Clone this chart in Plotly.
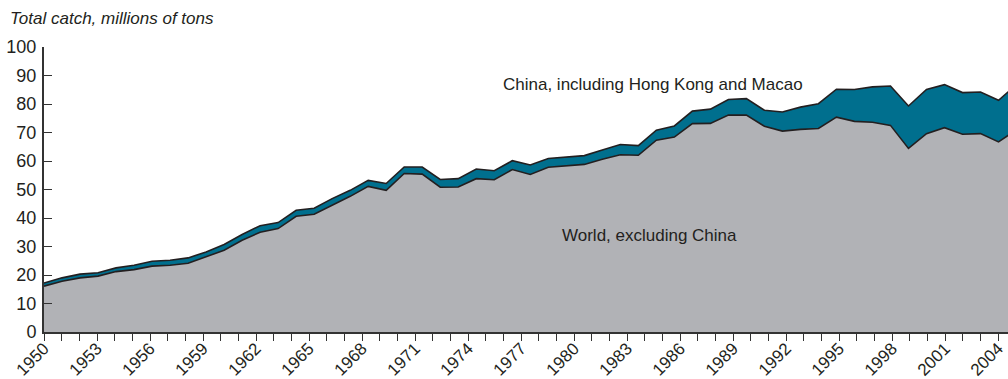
import plotly.graph_objects as go

# Annual catch, millions of tons
years = list(range(1950, 2005))
world_excl_china = [
    16.1, 17.8, 19.0, 19.6, 21.2, 21.9, 23.1, 23.4, 24.1, 26.4,
    28.7, 32.2, 35.0, 36.3, 40.6, 41.3, 44.4, 47.6, 51.1, 49.7,
    55.6, 55.4, 50.8, 50.9, 53.8, 53.4, 57.0, 55.3, 57.8, 58.3,
    58.8, 60.6, 62.2, 62.0, 67.3, 68.4, 73.1, 73.2, 76.1, 76.1,
    72.2, 70.5, 71.1, 71.4, 75.4, 73.9, 73.6, 72.5, 64.4, 69.6,
    71.7, 69.4, 69.6, 66.7, 71.0,
]
china = [
    1.1, 1.2, 1.3, 1.2, 1.3, 1.5, 1.7, 1.8, 1.9, 1.7,
    2.0, 2.0, 2.3, 2.1, 2.1, 2.1, 2.4, 2.1, 2.1, 2.4,
    2.3, 2.5, 2.7, 2.9, 3.4, 3.2, 3.1, 3.3, 3.1, 3.0,
    3.1, 3.3, 3.6, 3.4, 3.5, 3.9, 4.4, 5.0, 5.5, 5.8,
    5.6, 6.7, 7.8, 8.7, 9.8, 11.2, 12.4, 13.8, 14.9, 15.5,
    15.1, 14.6, 14.6, 14.6, 15.8,
]

# Year labels along the bottom axis
tick_years = list(range(1950, 2005, 3))
y_ticks = list(range(0, 101, 10))

GRAY = "#b1b2b6"
TEAL = "#006f8e"
INK = "#231f20"
FONT = "Arial, Liberation Sans, Helvetica, sans-serif"

W, H = 1008, 379
M_L, M_R, M_T, M_B = 44, 0, 47, 47
plot_w = W - M_L - M_R

fig = go.Figure()
fig.add_trace(go.Scatter(
    x=years, y=world_excl_china, stackgroup="catch", mode="lines",
    line=dict(color=INK, width=1.6), fillcolor=GRAY,
    name="World, excluding China", hoverinfo="x+y",
))
fig.add_trace(go.Scatter(
    x=years, y=china, stackgroup="catch", mode="lines",
    line=dict(color=INK, width=1.6), fillcolor=TEAL,
    name="China, including Hong Kong and Macao", hoverinfo="x+y",
))

fig.update_layout(
    width=W, height=H,
    margin=dict(l=M_L, r=M_R, t=M_T, b=M_B, autoexpand=False),
    paper_bgcolor="white", plot_bgcolor="white",
    showlegend=False,
    font=dict(family=FONT, size=17, color=INK),
    xaxis=dict(
        range=[1950, 1950 + plot_w / 18.01],
        visible=False, fixedrange=True, automargin=False,
    ),
    xaxis2=dict(
        overlaying="x", side="bottom", anchor="y",
        range=[1950, 1950 + plot_w / 17.67],
        showgrid=False, zeroline=False,
        showline=True, linecolor="#333333", linewidth=2,
        tickmode="array", tickvals=tick_years,
        ticktext=[str(y) for y in tick_years],
        ticks="outside", ticklen=7, tickwidth=1.3, tickcolor="#333333",
        tickangle=-45,
        tickfont=dict(family=FONT, size=17, color=INK),
        ticklabelstandoff=-9,
        minor=dict(dtick=1, tick0=1950, ticks="outside", ticklen=7,
                   tickwidth=1.3, tickcolor="#333333"),
        fixedrange=True, automargin=False,
    ),
    yaxis=dict(
        range=[0, 100], showgrid=False, zeroline=False,
        showline=True, linecolor="#333333", linewidth=2,
        tickmode="array", tickvals=y_ticks,
        ticks="inside", ticklen=8, tickwidth=1.3, tickcolor="#333333",
        tickfont=dict(family=FONT, size=18, color=INK),
        ticklabelstandoff=2,
        fixedrange=True, automargin=False,
    ),
)

# Placeholder trace so the year axis is rendered
fig.add_trace(go.Scatter(x=[1950], y=[0], xaxis="x2", mode="markers",
                         marker=dict(opacity=0), hoverinfo="skip",
                         showlegend=False))

fig.add_annotation(
    text="Total catch, millions of tons", xref="paper", yref="paper",
    x=-36 / plot_w, y=1.10, xanchor="left", yanchor="middle",
    showarrow=False, font=dict(family=FONT, size=17, color=INK, style="italic"),
)
fig.add_annotation(
    text="China, including Hong Kong and Macao", x=1983.8, y=87,
    xref="x", yref="y", showarrow=False,
    font=dict(family=FONT, size=17, color=INK),
)
fig.add_annotation(
    text="World, excluding China", x=1983.6, y=34,
    xref="x", yref="y", showarrow=False,
    font=dict(family=FONT, size=17, color=INK),
)

fig.write_html("out.html")
